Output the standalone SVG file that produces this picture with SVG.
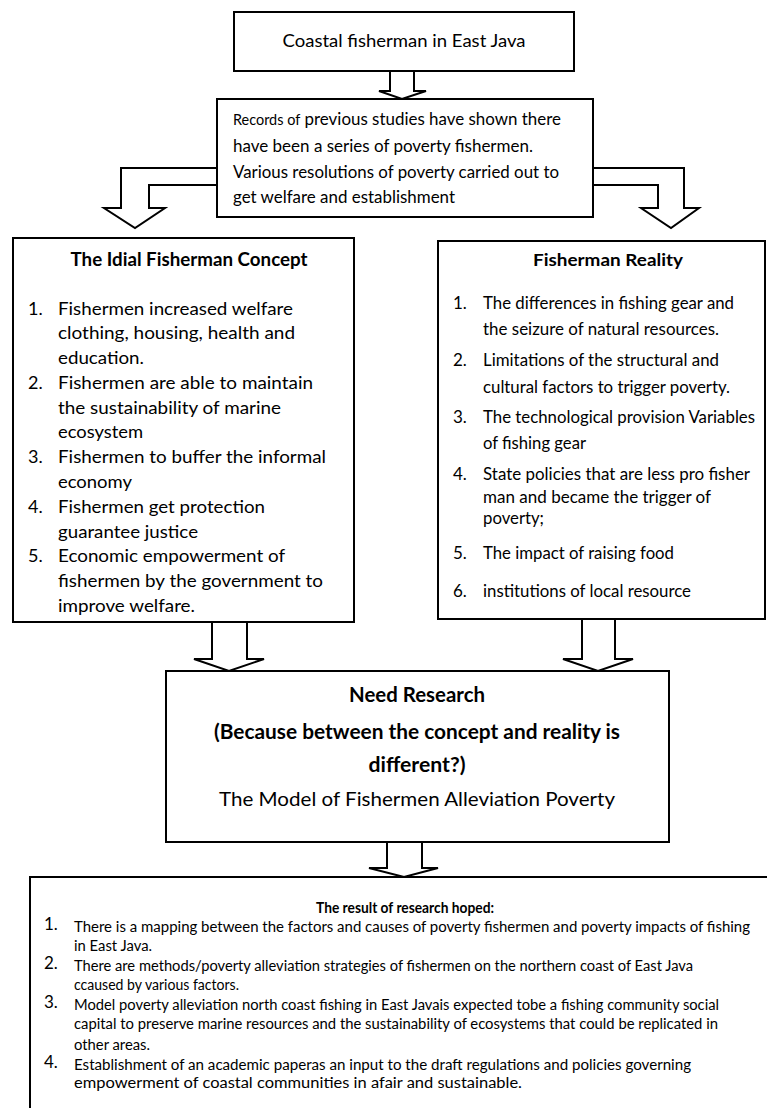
<svg xmlns="http://www.w3.org/2000/svg" width="767" height="1108" viewBox="0 0 767 1108">
<style>
.box{fill:#fff;stroke:#000;stroke-width:2}
.arr{fill:#fff;stroke:#000;stroke-width:2;stroke-linejoin:miter}
text{font-family:Lato,"Open Sans","Liberation Sans",sans-serif;fill:#000}
.b{font-weight:bold}
.c{text-anchor:middle}
.s18{font-size:18px}
.s17{font-size:17px}
.s16{font-size:16px}
.s15{font-size:15.5px}
.s20{font-size:20px}
</style>
<rect x="0" y="0" width="767" height="1108" fill="#fff"/>
<g id="connectors">
<polygon class="arr" points="390,71 390,91 379,91 402,99 426,91 414,91 414,71"/>
<polygon class="arr" points="217,168 121,168 121,208 104,208 135,228 165,208 149,208 149,185 217,185"/>
<polygon class="arr" points="593,168 684,168 684,208 699,208 671,228 641,208 658,208 658,185 593,185"/>
<polygon class="arr" points="212,622 212,659 194,659 229,671 264,659 247,659 247,622"/>
<polygon class="arr" points="582,619 582,659 563,659 598,671 633,659 615,659 615,619"/>
<polygon class="arr" points="387,842 387,868 369,868 404,877 438,868 422,868 422,842"/>
</g>
<g id="coastal">
<rect class="box" x="234" y="12" width="340" height="59"/>
<text class="s18 c" x="404" y="47" textLength="243" lengthAdjust="spacingAndGlyphs">Coastal fisherman in East Java</text>
</g>
<g id="records">
<rect class="box" x="217" y="99" width="376" height="118"/>
<text class="s17" x="233" y="125" textLength="328" lengthAdjust="spacingAndGlyphs"><tspan font-size="14.5">Records of</tspan> previous studies have shown there</text>
<text class="s17" x="233" y="152" textLength="300" lengthAdjust="spacingAndGlyphs">have been a series of poverty fishermen.</text>
<text class="s17" x="233" y="178" textLength="326" lengthAdjust="spacingAndGlyphs">Various resolutions of poverty carried out to</text>
<text class="s17" x="233" y="203" textLength="222" lengthAdjust="spacingAndGlyphs">get welfare and establishment</text>
</g>
<g id="ideal">
<rect class="box" x="13" y="238" width="341" height="384"/>
<text class="s18 b c" x="189" y="266" textLength="237" lengthAdjust="spacingAndGlyphs">The Idial Fisherman Concept</text>
<text class="s18" x="28" y="315">1.</text>
<text class="s18" x="58" y="315" textLength="235" lengthAdjust="spacingAndGlyphs">Fishermen increased welfare</text>
<text class="s18" x="58" y="339" textLength="237" lengthAdjust="spacingAndGlyphs">clothing, housing, health and</text>
<text class="s18" x="58" y="364" textLength="86" lengthAdjust="spacingAndGlyphs">education.</text>
<text class="s18" x="28" y="389">2.</text>
<text class="s18" x="58" y="389" textLength="255" lengthAdjust="spacingAndGlyphs">Fishermen are able to maintain</text>
<text class="s18" x="58" y="414" textLength="223" lengthAdjust="spacingAndGlyphs">the sustainability of marine</text>
<text class="s18" x="58" y="438" textLength="85" lengthAdjust="spacingAndGlyphs">ecosystem</text>
<text class="s18" x="28" y="463">3.</text>
<text class="s18" x="58" y="463" textLength="268" lengthAdjust="spacingAndGlyphs">Fishermen to buffer the informal</text>
<text class="s18" x="58" y="488" textLength="74" lengthAdjust="spacingAndGlyphs">economy</text>
<text class="s18" x="28" y="513">4.</text>
<text class="s18" x="58" y="513" textLength="207" lengthAdjust="spacingAndGlyphs">Fishermen get protection</text>
<text class="s18" x="58" y="538" textLength="140" lengthAdjust="spacingAndGlyphs">guarantee justice</text>
<text class="s18" x="28" y="562">5.</text>
<text class="s18" x="58" y="562" textLength="227" lengthAdjust="spacingAndGlyphs">Economic empowerment of</text>
<text class="s18" x="58" y="587" textLength="265" lengthAdjust="spacingAndGlyphs">fishermen by the government to</text>
<text class="s18" x="58" y="612" textLength="137" lengthAdjust="spacingAndGlyphs">improve welfare.</text>
</g>
<g id="reality">
<rect class="box" x="438" y="241" width="327" height="378"/>
<text class="s17 b c" x="608" y="266" textLength="150" lengthAdjust="spacingAndGlyphs">Fisherman Reality</text>
<text class="s17" x="453" y="309">1.</text>
<text class="s17" x="483" y="309" textLength="251" lengthAdjust="spacingAndGlyphs">The differences in fishing gear and</text>
<text class="s17" x="483" y="335" textLength="236" lengthAdjust="spacingAndGlyphs">the seizure of natural resources.</text>
<text class="s17" x="453" y="366">2.</text>
<text class="s17" x="483" y="366" textLength="236" lengthAdjust="spacingAndGlyphs">Limitations of the structural and</text>
<text class="s17" x="483" y="393" textLength="247" lengthAdjust="spacingAndGlyphs">cultural factors to trigger poverty.</text>
<text class="s17" x="453" y="423">3.</text>
<text class="s17" x="483" y="423" textLength="272" lengthAdjust="spacingAndGlyphs">The technological provision Variables</text>
<text class="s17" x="483" y="449" textLength="103" lengthAdjust="spacingAndGlyphs">of fishing gear</text>
<text class="s17" x="453" y="480">4.</text>
<text class="s17" x="483" y="480" textLength="267" lengthAdjust="spacingAndGlyphs">State policies that are less pro fisher</text>
<text class="s17" x="483" y="503" textLength="228" lengthAdjust="spacingAndGlyphs">man and became the trigger of</text>
<text class="s17" x="483" y="524" textLength="61" lengthAdjust="spacingAndGlyphs">poverty;</text>
<text class="s17" x="453" y="559">5.</text>
<text class="s17" x="483" y="559" textLength="191" lengthAdjust="spacingAndGlyphs">The impact of raising food</text>
<text class="s17" x="453" y="597">6.</text>
<text class="s17" x="483" y="597" textLength="208" lengthAdjust="spacingAndGlyphs">institutions of local resource</text>
</g>
<g id="need">
<rect class="box" x="166" y="671" width="503" height="171"/>
<text class="s20 b c" x="417" y="702" textLength="136" lengthAdjust="spacingAndGlyphs">Need Research</text>
<text class="s20 b c" x="417" y="739" textLength="406" lengthAdjust="spacingAndGlyphs">(Because between the concept and reality is</text>
<text class="s20 b c" x="417" y="772" textLength="97" lengthAdjust="spacingAndGlyphs">different?)</text>
<text class="s20 c" x="417" y="806" textLength="396" lengthAdjust="spacingAndGlyphs">The Model of Fishermen Alleviation Poverty</text>
</g>
<g id="result">
<rect class="box" x="30" y="877" width="760" height="260"/>
<text class="s15 b c" x="405" y="913" textLength="178" lengthAdjust="spacingAndGlyphs">The result of research hoped:</text>
<text class="s17" x="44" y="930">1.</text>
<text class="s15" x="74" y="932" textLength="676" lengthAdjust="spacingAndGlyphs">There is a mapping between the factors and causes of poverty fishermen and poverty impacts of fishing</text>
<text class="s15" x="74" y="951" textLength="78" lengthAdjust="spacingAndGlyphs">in East Java.</text>
<text class="s17" x="44" y="969">2.</text>
<text class="s15" x="74" y="971" textLength="619" lengthAdjust="spacingAndGlyphs">There are methods/poverty alleviation strategies of fishermen on the northern coast of East Java</text>
<text class="s15" x="74" y="990" textLength="165" lengthAdjust="spacingAndGlyphs">ccaused by various factors.</text>
<text class="s17" x="44" y="1008">3.</text>
<text class="s15" x="74" y="1010" textLength="645" lengthAdjust="spacingAndGlyphs">Model poverty alleviation north coast fishing in East Javais expected tobe a fishing community social</text>
<text class="s15" x="74" y="1029" textLength="644" lengthAdjust="spacingAndGlyphs">capital to preserve marine resources and the sustainability of ecosystems that could be replicated in</text>
<text class="s15" x="74" y="1050" textLength="76" lengthAdjust="spacingAndGlyphs">other areas.</text>
<text class="s17" x="44" y="1068">4.</text>
<text class="s15" x="74" y="1070" textLength="617" lengthAdjust="spacingAndGlyphs">Establishment of an academic paperas an input to the draft regulations and policies governing</text>
<text class="s15" x="74" y="1088" textLength="448" lengthAdjust="spacingAndGlyphs">empowerment of coastal communities in afair and sustainable.</text>
</g>
</svg>
